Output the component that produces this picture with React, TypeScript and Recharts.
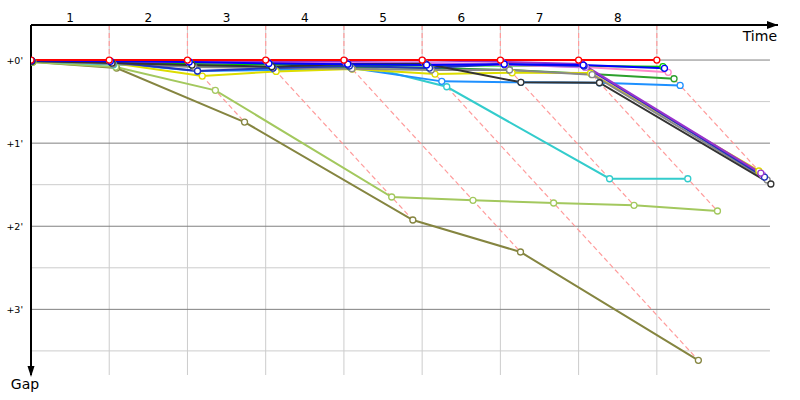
import React from 'react';
import { LineChart, Line, XAxis, YAxis, ReferenceLine, ReferenceDot } from 'recharts';

// ---- axis / scale data ----
const LAP_TIME = 61.4; // seconds per lap (leader)
const LAP_NUMBERS = [1, 2, 3, 4, 5, 6, 7, 8];
const LAP_LABELS = ['1', '2', '3', '4', '5', '6', '7', '8'];
const GAP_TICKS = [0, 60, 120, 180];
const GAP_LABELS = ["+0'", "+1'", "+2'", "+3'"];
const MINOR_GAPS = [30, 90, 150, 210];
const X_MAX = 586.3;
const GRID_X_END = 580.0;
const Y_MIN = -25.3;
const Y_MAX = 227.4;

// ---- gaps to leader (seconds) at the end of each lap, lap 0 = start ----
const RED = [0, 0, 0, 0, 0, 0, 0, 0, 0];
const BLUE = [0.4, 0.9, 1.4, 2.5, 3.0, 3.5, 3.0, 3.6, 6.0];
const GREEN = [0.7, 1.4, 2.5, 3.2, 3.6, 4.0, 4.0, 4.3, 4.8];
const DARK_GREEN = [1.1, 2.2, 4.3, 5.1, 5.1, 5.8, 7.2, 10.1, 13.5];
const PINK = [0.4, 0.7, 1.4, 1.8, 2.2, 2.9, 3.6, 5.1, 8.9];
const SKY = [1.1, 2.2, 7.9, 7.2, 5.8, 15.4, 16.1, 16.4, 18.3];
const CYAN = [0.7, 3.4, 2.9, 0.9, 0.7, 19.3, 85.7, 85.7];
const LIGHT_GREEN = [1.4, 5.1, 21.9, 98.9, 101.3, 103.2, 104.9, 109.0];
const OLIVE = [1.4, 5.8, 44.8, 115.5, 138.6, 216.8];
const YELLOW = [1.1, 2.2, 11.6, 8.2, 6.5, 10.1, 9.2, 9.4, 80.1];
const BLACK = [0.7, 2.2, 3.6, 4.8, 2.9, 2.7, 16.1, 16.4, 89.5];
const GRAY = [0.7, 2.9, 5.1, 5.8, 6.3, 7.2, 7.2, 10.6, 86.6];
const PURPLE = [0.4, 0.7, 1.1, 1.4, 0.7, 0.2, 1.2, 2.9, 81.6];
const NAVY = [0.7, 1.4, 7.9, 5.8, 4.3, 5.8, 2.9, 4.3, 84.5];
const VIOLET = [0.4, 0.7, 1.4, 2.2, 2.2, 2.2, 2.9, 5.3, 83.0];

const DRIVERS = [
  { name: 'olive', color: '#858540', gaps: OLIVE },
  { name: 'lightgreen', color: '#a3c85e', gaps: LIGHT_GREEN },
  { name: 'cyan', color: '#33cccc', gaps: CYAN },
  { name: 'sky', color: '#1e90ff', gaps: SKY },
  { name: 'darkgreen', color: '#2ca02c', gaps: DARK_GREEN },
  { name: 'yellow', color: '#dddd00', gaps: YELLOW },
  { name: 'green', color: '#00cc00', gaps: GREEN },
  { name: 'pink', color: '#ff88c8', gaps: PINK },
  { name: 'gray', color: '#888888', gaps: GRAY },
  { name: 'violet', color: '#cc77ee', gaps: VIOLET },
  { name: 'navy', color: '#2233bb', gaps: NAVY },
  { name: 'purple', color: '#9933cc', gaps: PURPLE },
  { name: 'black', color: '#333333', gaps: BLACK },
  { name: 'blue', color: '#0000ff', gaps: BLUE },
  { name: 'red', color: '#ff0000', gaps: RED },
];

const FONT = 'DejaVu Sans';

const toPoints = (gaps: number[]) => gaps.map((g, lap) => ({ x: lap * LAP_TIME + g, y: g }));

const lapLines = LAP_NUMBERS.map((lap) => {
  const maxGap = Math.max(...DRIVERS.filter((d) => d.gaps.length > lap).map((d) => d.gaps[lap]));
  const x0 = lap * LAP_TIME;
  return [
    { x: x0, y: Y_MIN },
    { x: x0, y: 0 },
    { x: x0 + maxGap, y: maxGap },
  ];
});

const LapTick = (props: any) => {
  const { x, y, index } = props;
  return (
    <text x={x} y={y - 3.5} textAnchor="middle" fontSize={12} fontFamily={FONT} fill="#000">
      {LAP_LABELS[index]}
    </text>
  );
};

const GapTick = (props: any) => {
  const { x, y, index } = props;
  return (
    <text x={x - 8} y={y + 3.5} textAnchor="end" fontSize={9.5} fontFamily={FONT} fill="#000">
      {GAP_LABELS[index]}
    </text>
  );
};

const TimeArrow = (p: any) => (
  <g>
    <polygon points={`${p.cx - 11},${p.cy - 4} ${p.cx - 11},${p.cy + 4} ${p.cx},${p.cy}`} fill="#000" />
    <text x={p.cx - 1} y={p.cy + 16} textAnchor="end" fontSize={14} fontFamily={FONT} fill="#000">
      Time
    </text>
  </g>
);

const GapArrow = (p: any) => (
  <g>
    <polygon points={`${p.cx - 3.5},${p.cy - 9} ${p.cx + 3.5},${p.cy - 9} ${p.cx},${p.cy + 2}`} fill="#000" />
    <text x={p.cx - 6} y={p.cy + 14} textAnchor="middle" fontSize={14} fontFamily={FONT} fill="#000">
      Gap
    </text>
  </g>
);

export default function App() {
  return (
    <div style={{ position: 'absolute', left: 0, top: 0, width: 800, height: 400, background: '#fff' }}>
      <LineChart width={800} height={400} margin={{ top: 0, right: 22, bottom: 25, left: 0 }}>
        <XAxis
          type="number"
          dataKey="x"
          orientation="top"
          height={25}
          domain={[0, X_MAX]}
          allowDataOverflow
          ticks={LAP_NUMBERS.map((l) => (l - 0.5) * LAP_TIME)}
          tick={<LapTick />}
          tickLine={false}
          tickSize={0}
          tickMargin={0}
          axisLine={{ stroke: '#000', strokeWidth: 2 }}
          interval={0}
        />
        <YAxis
          type="number"
          dataKey="y"
          width={31}
          reversed
          domain={[Y_MIN, Y_MAX]}
          allowDataOverflow
          ticks={GAP_TICKS}
          tick={<GapTick />}
          tickLine={false}
          tickSize={0}
          tickMargin={0}
          axisLine={{ stroke: '#000', strokeWidth: 2 }}
          interval={0}
        />
        {MINOR_GAPS.map((g) => (
          <ReferenceLine key={'mg' + g} segment={[{ x: 0, y: g }, { x: GRID_X_END, y: g }]} stroke="#cccccc" strokeWidth={1} />
        ))}
        {LAP_NUMBERS.map((l) => (
          <ReferenceLine key={'vl' + l} x={l * LAP_TIME} stroke="#cccccc" strokeWidth={1} />
        ))}
        {GAP_TICKS.map((g) => (
          <ReferenceLine key={'Mg' + g} segment={[{ x: 0, y: g }, { x: GRID_X_END, y: g }]} stroke="#808080" strokeWidth={1} />
        ))}
        {lapLines.map((pts, i) => (
          <Line
            key={'lap' + i}
            data={pts}
            dataKey="y"
            type="linear"
            stroke="#ff9c9c"
            strokeWidth={1.2}
            strokeDasharray="5 3"
            dot={false}
            activeDot={false}
            isAnimationActive={false}
          />
        ))}
        {DRIVERS.map((d) => (
          <Line
            key={d.name}
            data={toPoints(d.gaps)}
            dataKey="y"
            type="linear"
            stroke={d.color}
            strokeWidth={2}
            dot={{ r: 3, fill: '#fff', stroke: d.color, strokeWidth: 1.3 }}
            activeDot={false}
            isAnimationActive={false}
          />
        ))}
        <ReferenceDot x={X_MAX} y={Y_MIN} r={0} ifOverflow="visible" shape={TimeArrow} />
        <ReferenceDot x={0} y={Y_MAX} r={0} ifOverflow="visible" shape={GapArrow} />
      </LineChart>
    </div>
  );
}
